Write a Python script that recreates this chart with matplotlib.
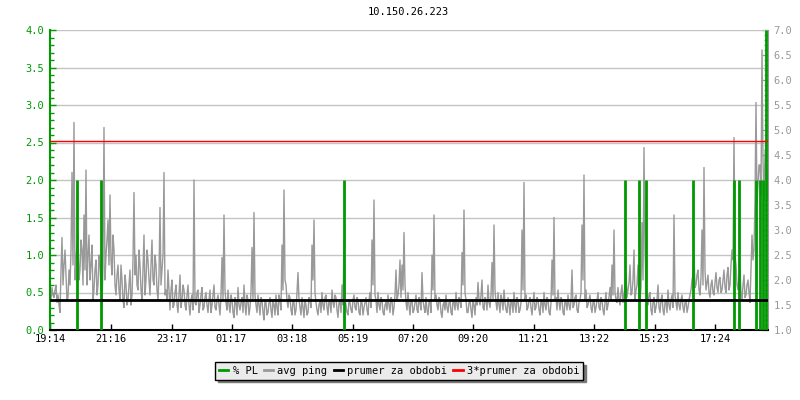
import numpy as np
import matplotlib.pyplot as plt
from matplotlib.lines import Line2D
from matplotlib.ticker import MultipleLocator, FormatStrFormatter

plt.rcParams['font.family'] = ['DejaVu Sans Mono']

title = '10.150.26.223'
time_labels = ['19:14', '21:16', '23:17', '01:17', '03:18', '05:19',
               '07:20', '09:20', '11:21', '13:22', '15:23', '17:24']
start_label = '19:14'
span_minutes = 1436
sample_step = 4  # minutes between avg_ping samples, avg_ping_mid sits halfway

# avg ping (ms), one value every 4 minutes from 19:14
avg_ping = [
    # 19:14 - 23:50
    1.75, 1.85, 1.65, 1.9, 1.7, 1.35, 2.85, 2.3, 2.1, 1.65,
    1.9, 4.15, 5.15, 2.4, 2.9, 2.2, 2.6, 3.3, 4.2, 2.5,
    2.0, 2.7, 1.8, 2.4, 1.9, 2.3, 1.5, 5.05, 2.5, 3.2,
    3.7, 2.1, 2.6, 1.7, 2.3, 1.6, 2.0, 1.45, 1.9, 1.6,
    2.2, 1.7, 3.75, 2.5, 1.8, 2.3, 1.6, 2.9, 2.0, 2.4,
    1.7, 2.8, 1.9, 2.3, 1.6, 3.45, 2.2, 4.15, 1.8, 2.2,
    1.4, 2.0, 1.5, 1.9, 1.35, 2.1, 1.6, 1.8, 1.4, 1.9,
    1.3, 1.7, 4.0, 1.5, 1.8,
    # 00:14 - 05:00
    1.5, 1.85, 1.45, 1.75, 1.35, 1.8, 1.5, 1.9, 1.4, 1.7,
    1.3, 2.45, 3.3, 1.55, 1.8, 1.35, 1.6, 1.25, 1.55, 1.85,
    1.4, 1.65, 1.9, 1.3, 1.6, 1.45, 2.65, 3.35, 1.5, 1.7,
    1.3, 1.6, 1.2, 1.55, 1.35, 1.65, 1.25, 1.5, 1.7, 1.3,
    1.6, 2.7, 3.8, 1.9, 1.45, 1.65, 1.3, 1.55, 1.4, 2.15,
    1.45, 1.65, 1.25, 1.5, 1.35, 1.6, 2.7, 3.2, 1.55, 1.3,
    1.6, 1.75, 1.4, 1.7, 1.3, 1.55, 1.8, 1.45, 1.65, 1.25,
    1.6, 1.9, 2.8,
    # 05:06 - 09:54
    1.5, 1.3, 1.55, 1.35, 1.7, 1.4, 1.6, 1.3, 1.55, 1.45,
    1.65, 1.3, 1.75, 2.8, 3.6, 1.6, 1.75, 1.4, 1.6, 1.3,
    1.55, 1.7, 1.35, 1.6, 1.45, 2.2, 1.7, 2.4, 2.3, 2.95,
    1.55, 1.75, 1.3, 1.6, 1.4, 1.7, 1.35, 1.55, 2.15, 1.45,
    1.65, 1.3, 1.6, 2.5, 3.3, 1.7, 1.4, 1.6, 1.25, 1.55,
    1.7, 1.35, 1.6, 1.3, 1.55, 1.75, 1.4, 1.6, 2.55, 3.4,
    1.6, 1.35, 1.6, 1.25, 1.5, 1.65, 1.95, 1.5, 2.0, 1.4,
    1.6, 1.9, 1.45,
    # 10:00 - 14:44
    2.35, 3.1, 1.55, 1.75, 1.35, 1.6, 1.8, 1.4, 1.65, 1.3,
    1.55, 1.75, 1.35, 1.6, 1.4, 3.0, 3.95, 1.7, 1.45, 1.65,
    1.3, 1.75, 1.45, 1.6, 1.3, 1.55, 1.75, 1.4, 1.6, 1.3,
    2.4, 3.25, 1.65, 1.8, 1.4, 1.6, 1.3, 1.55, 1.7, 1.4,
    2.2, 1.5, 1.7, 1.35, 1.6, 3.1, 4.1, 1.8, 1.5, 1.7,
    1.35, 1.6, 1.45, 1.75, 1.4, 1.6, 1.3, 1.75, 1.5, 1.85,
    2.3, 3.0, 1.6, 1.85, 1.5, 1.9, 1.7, 2.15, 1.8, 2.3,
    1.75, 2.6,
    # 14:46 - 19:10
    1.8, 2.3, 1.6, 3.15, 4.65, 1.9, 1.5, 1.75, 1.3, 1.65,
    1.45, 1.9, 1.35, 1.7, 1.3, 1.6, 1.8, 1.4, 1.7, 3.3,
    1.55, 1.75, 1.4, 1.7, 1.35, 1.6, 1.45, 1.7, 2.0, 2.5,
    1.9, 2.2, 1.7, 3.0, 4.25, 1.8, 2.1, 1.65, 2.0, 1.7,
    2.15, 1.75, 2.05, 1.8, 2.2, 1.75, 2.25, 1.9, 2.6, 4.85,
    2.3, 1.8, 2.2, 1.6, 2.1, 1.7, 2.0, 1.55, 2.9, 2.6,
    5.55, 3.9, 4.3, 6.6, 3.6, 4.8, 4.1,
]

# avg ping (ms) read 2 minutes after each avg_ping value
avg_ping_mid = [
    # 19:16 - 23:52
    1.6, 1.7, 1.8, 1.55, 1.5, 2.2, 1.9, 2.6, 1.6, 2.2,
    2.6, 2.3, 2.0, 2.7, 2.0, 2.8, 1.9, 2.2, 1.9, 2.9,
    2.3, 1.6, 2.2, 1.7, 2.5, 1.8, 2.3, 2.0, 2.8, 2.3,
    2.4, 2.9, 1.9, 2.1, 1.8, 2.3, 1.6, 2.1, 1.5, 1.9,
    1.5, 2.4, 2.1, 1.9, 2.6, 1.8, 2.2, 1.7, 2.6, 2.0,
    2.3, 2.0, 2.5, 1.8, 2.1, 1.9, 2.5, 1.7, 1.6, 1.8,
    1.8, 1.45, 1.75, 1.5, 1.7, 1.45, 1.9, 1.5, 1.7, 1.5,
    1.6, 1.4, 1.55, 1.75, 1.35,
    # 00:16 - 05:02
    1.7, 1.4, 1.65, 1.5, 1.6, 1.35, 1.7, 1.45, 1.6, 1.5,
    1.7, 1.6, 1.8, 1.4, 1.5, 1.7, 1.35, 1.65, 1.3, 1.5,
    1.55, 1.35, 1.5, 1.7, 1.3, 1.75, 1.6, 1.7, 1.35, 1.5,
    1.65, 1.35, 1.6, 1.3, 1.55, 1.4, 1.6, 1.3, 1.45, 1.7,
    1.4, 1.8, 2.0, 1.6, 1.7, 1.4, 1.6, 1.3, 1.75, 1.6,
    1.3, 1.45, 1.6, 1.3, 1.65, 1.45, 2.0, 1.75, 1.4, 1.5,
    1.35, 1.5, 1.65, 1.45, 1.6, 1.35, 1.55, 1.7, 1.4, 1.55,
    1.35, 1.5, 1.6,
    # 05:08 - 09:56
    1.35, 1.6, 1.4, 1.6, 1.45, 1.65, 1.35, 1.6, 1.3, 1.55,
    1.4, 1.6, 1.45, 1.9, 1.7, 1.35, 1.5, 1.65, 1.35, 1.5,
    1.4, 1.5, 1.65, 1.3, 1.7, 1.6, 1.9, 1.65, 1.8, 1.9,
    1.4, 1.5, 1.6, 1.35, 1.55, 1.4, 1.65, 1.4, 1.6, 1.35,
    1.4, 1.55, 1.35, 1.8, 1.6, 1.5, 1.65, 1.35, 1.5, 1.4,
    1.45, 1.55, 1.35, 1.6, 1.4, 1.5, 1.65, 1.45, 1.9, 1.75,
    1.35, 1.55, 1.4, 1.6, 1.3, 1.5, 1.6, 1.7, 1.45, 1.65,
    1.4, 1.55, 1.7,
    # 10:02 - 14:46
    1.6, 1.8, 1.4, 1.5, 1.7, 1.4, 1.55, 1.35, 1.5, 1.6,
    1.35, 1.5, 1.65, 1.35, 1.55, 1.8, 1.6, 1.4, 1.6, 1.45,
    1.55, 1.4, 1.65, 1.4, 1.6, 1.35, 1.5, 1.65, 1.35, 1.55,
    1.7, 1.6, 1.4, 1.55, 1.65, 1.35, 1.6, 1.4, 1.5, 1.6,
    1.45, 1.65, 1.4, 1.55, 1.75, 2.0, 1.6, 1.45, 1.6, 1.45,
    1.55, 1.35, 1.6, 1.45, 1.65, 1.4, 1.55, 1.4, 1.65, 1.6,
    1.7, 1.75, 1.55, 1.6, 1.75, 1.55, 1.9, 1.65, 1.95, 1.7,
    2.0, 1.6,
    # 14:48 - 19:12
    1.9, 1.6, 1.85, 2.0, 2.6, 1.6, 1.7, 1.4, 1.55, 1.35,
    1.6, 1.45, 1.6, 1.4, 1.55, 1.35, 1.5, 1.6, 1.45, 1.7,
    1.4, 1.5, 1.6, 1.45, 1.55, 1.35, 1.6, 1.8, 2.1, 1.85,
    2.1, 1.8, 2.05, 1.9, 2.2, 1.95, 1.75, 1.9, 1.75, 1.95,
    1.85, 2.0, 1.75, 2.0, 1.85, 2.1, 1.8, 2.3, 2.4, 2.5,
    1.9, 2.05, 1.75, 1.9, 1.65, 1.9, 1.75, 2.2, 2.4, 3.6,
    3.5, 4.3, 3.7, 4.4, 4.5, 3.6, 4.4,
]

# packet loss events (%), minutes after 19:14
pl_minutes = [54, 102, 587, 1150, 1177, 1191, 1285, 1367, 1377, 1412, 1419, 1425, 1432]
pl_values = [2.0, 2.0, 2.0, 2.0, 2.0, 2.0, 2.0, 2.0, 2.0, 2.0, 2.0, 2.0, 4.0]

mean_ping = 1.593

GREEN = '#009900'
GRAY = '#999999'


def ms_to_pl(ms):
    return (np.asarray(ms, dtype=float) - 1.0) / 1.5


def pl_to_ms(pl):
    return 1.0 + 1.5 * np.asarray(pl, dtype=float)


def label_to_minutes(label):
    h, m = map(int, label.split(':'))
    h0, m0 = map(int, start_label.split(':'))
    return (h * 60 + m - h0 * 60 - m0) % 1440


fig = plt.figure(figsize=(8, 4), dpi=100)
ax = fig.add_axes([0.0625, 0.175, 0.8975, 0.75])
ax.set_xlim(0, span_minutes)
ax.set_ylim(0, 4)

ax.yaxis.set_major_locator(MultipleLocator(0.5))
ax.yaxis.set_minor_locator(MultipleLocator(0.1))
ax.yaxis.set_major_formatter(FormatStrFormatter('%.1f'))
ax.grid(axis='y', color='#c4c4c4', lw=1)
ax.set_axisbelow(True)

# interleave the two readings into one series
t_main = np.arange(len(avg_ping)) * sample_step
t = np.column_stack([t_main, t_main + sample_step / 2]).ravel()
ping = np.column_stack([avg_ping, avg_ping_mid]).ravel()
ax.plot(t, ms_to_pl(ping), color=GRAY, lw=1, zorder=2)
ax.vlines(pl_minutes, 0, pl_values, color=GREEN, lw=2, zorder=3)
ax.axhline(ms_to_pl(mean_ping), color='black', lw=2, zorder=4)
ax.axhline(ms_to_pl(3 * mean_ping), color='red', lw=1, zorder=4)

ax.set_xticks([label_to_minutes(l) for l in time_labels], time_labels)
ax.tick_params(axis='x', direction='in', length=4, width=1, pad=3, labelsize=7.5, colors='black')
ax.tick_params(axis='y', which='major', direction='in', length=4, width=1, pad=4,
               labelsize=7.5, colors=GREEN)
ax.tick_params(axis='y', which='minor', direction='in', length=3, width=1, colors=GREEN)
ax.spines['top'].set_visible(False)
ax.spines['right'].set_visible(False)
ax.spines['left'].set_color(GREEN)
ax.spines['left'].set_linewidth(1.5)
ax.spines['bottom'].set_linewidth(1.5)

sec = ax.secondary_yaxis('right', functions=(pl_to_ms, ms_to_pl))
sec.yaxis.set_major_locator(MultipleLocator(0.5))
sec.yaxis.set_minor_locator(MultipleLocator(0.1))
sec.yaxis.set_major_formatter(FormatStrFormatter('%.1f'))
sec.tick_params(which='major', direction='in', length=4, width=1, pad=4,
                labelsize=7.5, colors=GRAY)
sec.tick_params(which='minor', direction='in', length=3, width=1, colors=GRAY)
sec.spines['right'].set_color(GRAY)

fig.text(0.511, 0.97, title, ha='center', va='center', fontsize=7.5)

handles = [Line2D([], [], color=GREEN, lw=2),
           Line2D([], [], color=GRAY, lw=2),
           Line2D([], [], color='black', lw=2),
           Line2D([], [], color='red', lw=2)]
labels = ['% PL', 'avg ping', 'prumer za obdobi', '3*prumer za obdobi']
leg = fig.legend(handles, labels, loc='center', bbox_to_anchor=(0.499, 0.0725), ncol=4,
                 fontsize=7.5, handlelength=0.9, handletextpad=0.4, columnspacing=0.6,
                 borderpad=0.35, fancybox=False, framealpha=1,
                 shadow={'facecolor': '#7a7a7a', 'edgecolor': '#7a7a7a', 'alpha': 1})
leg.get_frame().set_facecolor('#ebebeb')
leg.get_frame().set_edgecolor('black')
leg.get_frame().set_linewidth(1)

fig.savefig('out.png', dpi=100)
